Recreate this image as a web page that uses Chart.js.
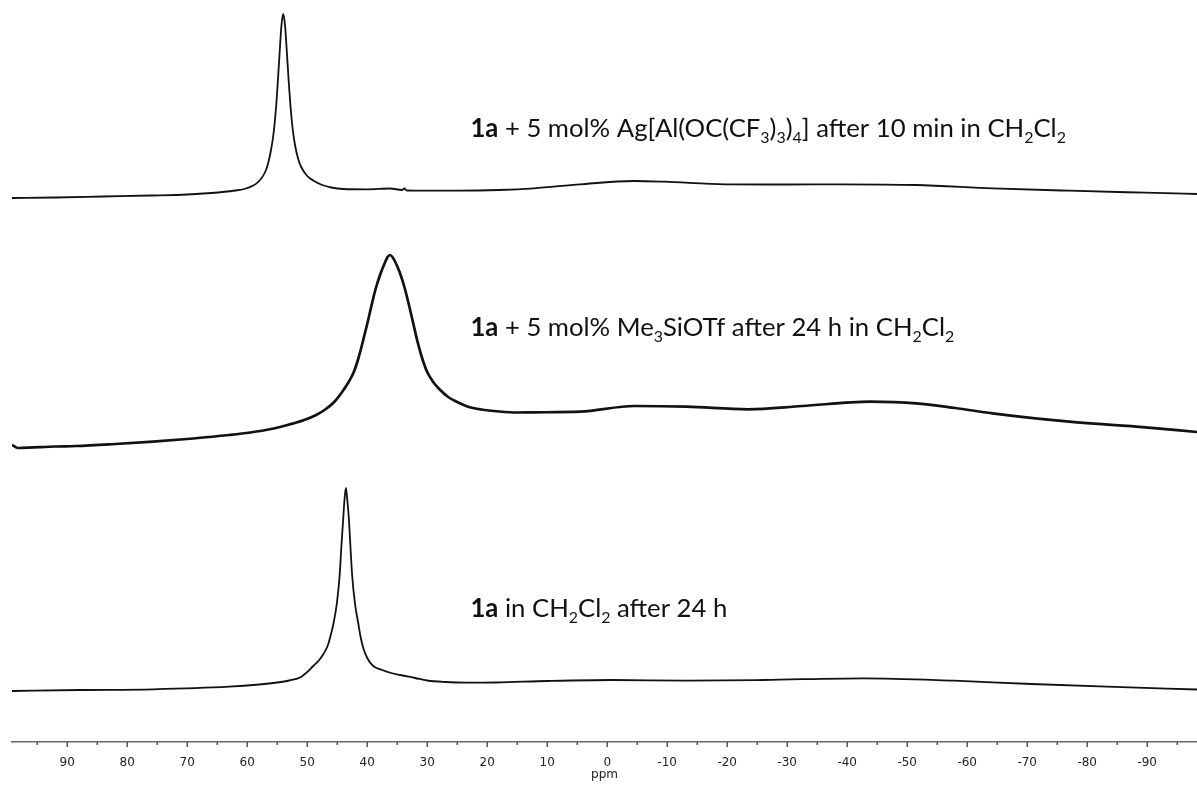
<!DOCTYPE html>
<html lang="en">
<head>
    <meta charset="UTF-8">
    <title>NMR spectra</title>
    <script src="https://cdn.jsdelivr.net/npm/chart.js"></script>
    <style>
        body { margin: 0; background: #fff; }
    </style>
</head>
<body>
    <canvas id="myChart" width="1197" height="785"></canvas>
    <script>
        // spectrum 1: 1a + Ag[Al(OC(CF3)3)4], 10 min
        const ppm1 = [99.2, 92, 84, 76, 70, 66, 62, 60.5, 59, 58, 57, 56.5, 56.0, 55.6, 55.2, 54.9, 54.6, 54.3, 54.0, 53.7, 53.4, 53.1, 52.8, 52.4, 52.0, 51.5, 51.0, 50.0, 49.0, 47.5, 46.0, 44.0, 40, 36.2, 34.2, 33.8, 33.4, 30, 24.8, 18, 12.2, 4.5, -4.5, -9.5, -19.7, -30, -38.8, -51.5, -64.2, -77, -89.7, -98.3];
        const int1 = [0, 0.5, 1.5, 2.5, 3.5, 5, 7.5, 9, 12.5, 17, 26, 35, 49, 65, 90, 116, 145, 172, 184, 173, 147, 118, 93, 68, 52, 39, 31, 22, 17.5, 13, 10.5, 9, 8.7, 9.5, 8, 9.5, 7.5, 7.3, 7.3, 8, 9.7, 13.7, 17, 16.3, 13.7, 13.5, 13.7, 13, 9.7, 7.3, 5.3, 4];

        // spectrum 2: 1a + Me3SiOTf, 24 h
        const ppm2 = [99.2, 98.2, 92, 88.5, 82, 75.7, 69, 63, 59.5, 56, 53, 50.5, 48.5, 47, 45.5, 44.3, 43.2, 42.3, 41.5, 40.7, 40.0, 39.3, 38.6, 37.8, 37.0, 36.6, 36.2, 35.8, 35.4, 34.6, 33.8, 33.0, 32.3, 31.6, 30.8, 30.0, 29.0, 28.0, 26.5, 25.0, 23.3, 21.0, 18.0, 15.0, 12.2, 4.5, -4.5, -13.3, -23.5, -32.5, -43.8, -51.5, -58, -64.2, -77, -89.7, -98.3];
        const int2 = [3, 0, 1.5, 2, 4, 6.3, 9.5, 13, 15.5, 19, 23.5, 28, 33, 38.5, 46, 55, 65, 75, 89, 107, 124, 142, 159, 174, 186, 191, 193, 191, 187, 176, 161, 142, 124, 106, 89, 76, 66, 59, 51, 46, 41.5, 38.5, 36.5, 35.5, 35.7, 36.3, 42, 41.3, 38.7, 42, 46.3, 44.7, 40, 34.7, 26.3, 20.7, 16];

        // spectrum 3: 1a in CH2Cl2, 24 h
        const ppm3 = [99.2, 88, 75.7, 63, 58, 55, 53, 51.2, 50, 49.0, 48.0, 47.3, 46.6, 46.2, 45.6, 45.05, 44.6, 44.3, 44.0, 43.8, 43.55, 43.3, 43.05, 42.8, 42.5, 42.05, 41.5, 41.1, 40.6, 40.0, 39.0, 37.5, 36, 34.5, 32, 30, 27, 23.3, 18.5, 10, -0.7, -13.3, -26, -42.7, -57.8, -70.7, -83.3, -98.3];
        const int3 = [0, 1, 1.7, 4.3, 6.5, 8.5, 10.5, 13.5, 19, 25, 31, 37, 45, 53, 68, 88, 115, 145, 172, 190, 203, 190, 172, 145, 115, 88, 68, 54, 42, 33, 25, 21, 18, 16, 13, 10.5, 9, 8.3, 8.5, 10, 11, 10.3, 11, 12.7, 10.3, 7, 4.3, 1.5];

        const majorTicks = [90, 80, 70, 60, 50, 40, 30, 20, 10, 0, -10, -20, -30, -40, -50, -60, -70, -80, -90];
        const minorTicks = [95, 85, 75, 65, 55, 45, 35, 25, 15, 5, -5, -15, -25, -35, -45, -55, -65, -75, -85, -95];

        const spectra = [[ppm1, int1], [ppm2, int2], [ppm3, int3]];
        const offsets = [544, 294, 51];      // vertical stacking of the traces
        const widths = [1.8, 2.7, 1.8];

        const captions = [
            { ppm: 22.8, y: 605, parts: [['1a', 'b'], [' + 5 mol% Ag[Al(OC(CF', ''], ['3', 's'], [')', ''], ['3', 's'], [')', ''], ['4', 's'], ['] after 10 min in CH', ''], ['2', 's'], ['Cl', ''], ['2', 's']] },
            { ppm: 22.8, y: 406, parts: [['1a', 'b'], [' + 5 mol% Me', ''], ['3', 's'], ['SiOTf after 24 h in CH', ''], ['2', 's'], ['Cl', ''], ['2', 's']] },
            { ppm: 22.8, y: 125, parts: [['1a', 'b'], [' in CH', ''], ['2', 's'], ['Cl', ''], ['2', 's'], [' after 24 h', '']] }
        ];

        const datasets = spectra.map(([xs, ys], i) => ({
            data: xs.map((x, j) => ({ x: x, y: ys[j] + offsets[i] })),
            borderColor: '#111',
            borderWidth: widths[i],
            pointRadius: 0,
            fill: false,
            cubicInterpolationMode: 'monotone'
        }));

        // captions with bold and subscript parts
        const captionPlugin = {
            id: 'captions',
            afterDatasetsDraw(chart) {
                const ctx = chart.ctx;
                const xs = chart.scales.x, ys = chart.scales.y;
                const size = 25.7;
                ctx.save();
                ctx.fillStyle = '#111';
                ctx.textBaseline = 'alphabetic';
                captions.forEach(c => {
                    let px = xs.getPixelForValue(c.ppm);
                    const py = ys.getPixelForValue(c.y);
                    c.parts.forEach(([t, f]) => {
                        const s = f === 's' ? size * 0.62 : size;
                        ctx.font = (f === 'b' ? 'bold ' : '') + s + 'px Lato';
                        ctx.fillText(t, px, py + (f === 's' ? size * 0.22 : 0));
                        px += ctx.measureText(t).width;
                    });
                });
                ctx.restore();
            }
        };

        // major / minor tick marks below the axis line
        const tickPlugin = {
            id: 'ppmTicks',
            afterDraw(chart) {
                const ctx = chart.ctx;
                const xs = chart.scales.x;
                ctx.save();
                ctx.strokeStyle = '#555';
                ctx.lineWidth = 1.5;
                ctx.beginPath();
                majorTicks.forEach(v => {
                    const p = xs.getPixelForValue(v);
                    ctx.moveTo(p, xs.top); ctx.lineTo(p, xs.top + 5);
                });
                minorTicks.forEach(v => {
                    const p = xs.getPixelForValue(v);
                    ctx.moveTo(p, xs.top); ctx.lineTo(p, xs.top + 3);
                });
                ctx.stroke();
                ctx.restore();
            }
        };

        new Chart(document.getElementById('myChart'), {
            type: 'line',
            data: { datasets: datasets },
            options: {
                responsive: false,
                animation: false,
                layout: { padding: { left: 12, right: 0, top: 0, bottom: 0 } },
                plugins: { legend: { display: false }, tooltip: { enabled: false } },
                scales: {
                    x: {
                        type: 'linear',
                        reverse: true,
                        min: -98.3,
                        max: 99.2,
                        afterBuildTicks: s => { s.ticks = majorTicks.map(v => ({ value: v })); },
                        afterFit: s => { s.height = 43; },
                        grid: { display: false, drawTicks: false },
                        border: { display: true, color: '#666', width: 1.5 },
                        ticks: {
                            padding: 14,
                            color: '#222',
                            font: { family: 'DejaVu Sans', size: 12 },
                            autoSkip: false,
                            maxRotation: 0,
                            callback: v => String(v)
                        },
                        title: {
                            display: true,
                            text: 'ppm',
                            color: '#222',
                            font: { family: 'DejaVu Sans', size: 12 },
                            padding: { top: 0, bottom: 3 }
                        }
                    },
                    y: { display: false, min: 0, max: 742 }
                }
            },
            plugins: [captionPlugin, tickPlugin]
        });
    </script>
</body>
</html>
